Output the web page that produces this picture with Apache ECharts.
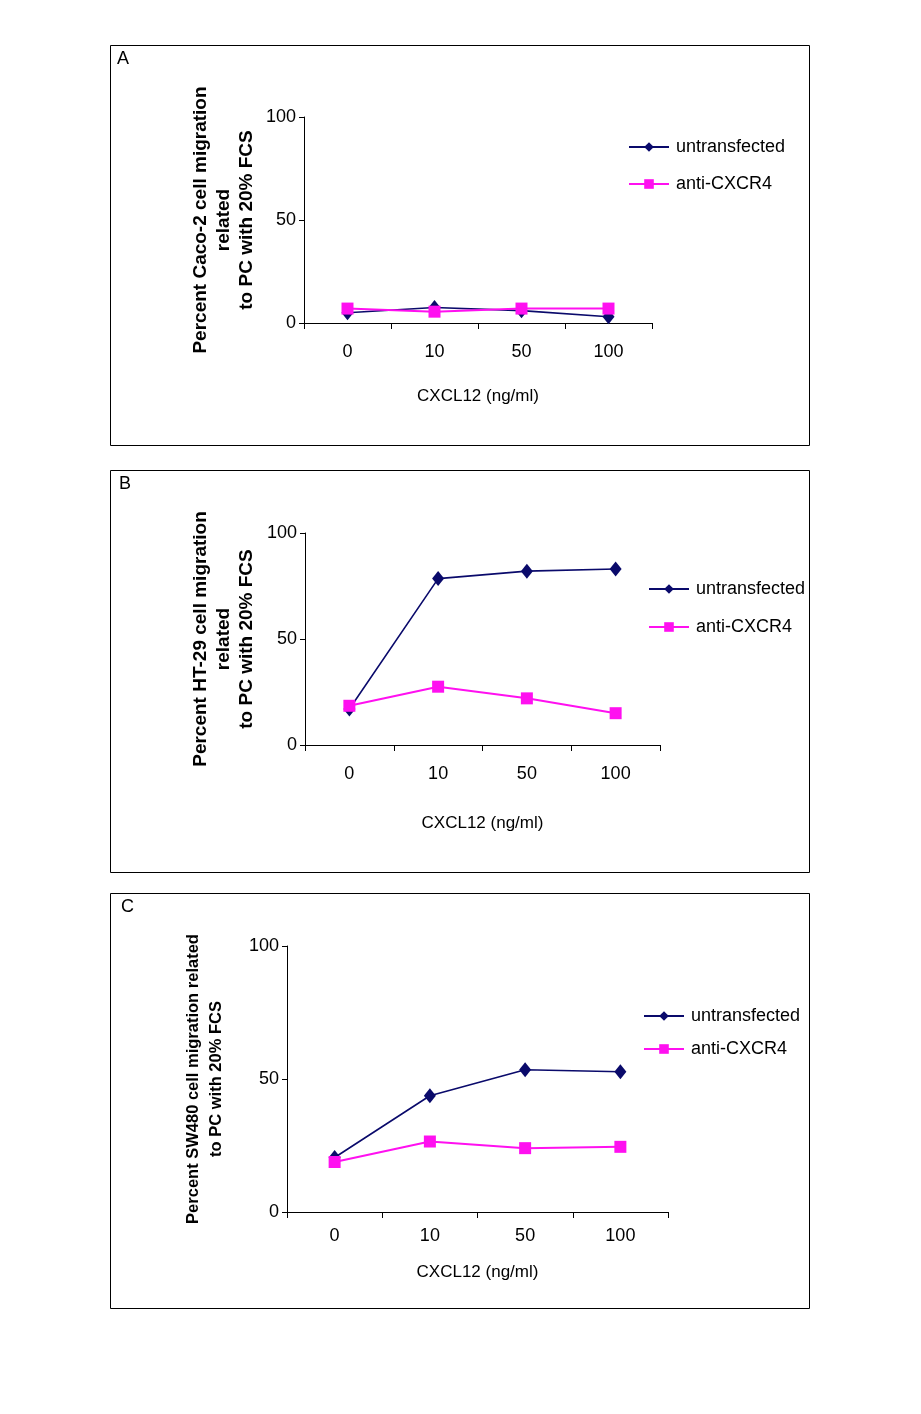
<!DOCTYPE html>
<html>
<head>
<meta charset="utf-8">
<script src="https://cdn.jsdelivr.net/npm/echarts@6/dist/echarts.min.js"></script>
<style>
html,body{margin:0;padding:0;background:#fff;}
#chart{width:921px;height:1414px;}
</style>
</head>
<body>
<div id="chart"></div>
<script>
const categories = ["0", "10", "50", "100"];
const seriesNames = ["untransfected", "anti-CXCR4"];
const yTicks = [0, 50, 100];

const untransfectedA = [5, 7.5, 6, 3];
const antiCXCR4A = [7, 5.5, 7, 7];

const untransfectedB = [17, 78.5, 82, 83];
const antiCXCR4B = [18.5, 27.5, 22, 15];

const untransfectedC = [20.5, 43.7, 53.5, 52.7];
const antiCXCR4C = [18.8, 26.5, 24, 24.5];

const panelLabels = ["A", "B", "C"];
const yTitles = [
  "Percent Caco-2 cell migration\nrelated\nto PC with 20% FCS",
  "Percent HT-29 cell migration\nrelated\nto PC with 20% FCS",
  "Percent SW480 cell migration related\nto PC with 20% FCS"
];
const xTitle = "CXCL12 (ng/ml)";

const SANS = "'Liberation Sans',Arial,sans-serif";
const NAVY = "#0a0a6b";
const MAGENTA = "#ff10f0";

const panels = [
  {grid:{left:304, top:117, width:348, height:206}, box:[110,45,699,400], label:[117,50],
   u:untransfectedA, a:antiCXCR4A, legend:{left:628, top:138, itemGap:19},
   xNameGap:65, xMargin:20, yNameGap:46, yFont:19, yLH:23},
  {grid:{left:305, top:533, width:355, height:212}, box:[110,470,699,402], label:[119,475],
   u:untransfectedB, a:antiCXCR4B, legend:{left:648, top:580, itemGap:20},
   xNameGap:70, xMargin:20, yNameGap:47, yFont:19, yLH:23},
  {grid:{left:287, top:946, width:381, height:266}, box:[110,893,699,415], label:[121,898],
   u:untransfectedC, a:antiCXCR4C, legend:{left:643, top:1007, itemGap:15},
   xNameGap:52, xMargin:15, yNameGap:59, yFont:16.5, yLH:23}
];

const chart = echarts.init(document.getElementById('chart'), null, {renderer:'canvas'});

const option = {
  backgroundColor:'#fff',
  animation:false,
  grid:[], xAxis:[], yAxis:[], series:[], legend:[], graphic:[]
};

panels.forEach((p, i) => {
  option.grid.push(Object.assign({containLabel:false}, p.grid));
  option.xAxis.push({
    type:'category', gridIndex:i, data:categories, boundaryGap:true,
    axisLine:{lineStyle:{color:'#000', width:1}},
    axisTick:{show:true, length:6, inside:false, alignWithLabel:false, lineStyle:{color:'#000'}},
    axisLabel:{color:'#000', fontSize:18, fontFamily:SANS, margin:p.xMargin},
    splitLine:{show:false},
    name:xTitle, nameLocation:'middle', nameGap:p.xNameGap,
    nameTextStyle:{color:'#000', fontSize:17, fontFamily:SANS}
  });
  option.yAxis.push({
    type:'value', gridIndex:i, min:0, max:100, interval:50,
    axisLine:{show:true, lineStyle:{color:'#000', width:1}},
    axisTick:{show:true, length:5, lineStyle:{color:'#000'}},
    axisLabel:{color:'#000', fontSize:18, fontFamily:SANS, margin:8,
      formatter:(v)=> yTicks.indexOf(v) >= 0 ? String(v) : ''},
    splitLine:{show:false},
    name:yTitles[i], nameLocation:'middle', nameGap:p.yNameGap, nameRotate:90,
    nameTextStyle:{color:'#000', fontSize:p.yFont, fontWeight:'bold', fontFamily:SANS,
      lineHeight:p.yLH, align:'center'}
  });
  option.series.push({
    name:seriesNames[0], type:'line', xAxisIndex:i, yAxisIndex:i, data:p.u,
    symbol:'diamond', symbolSize:[12,15], color:NAVY,
    lineStyle:{color:NAVY, width:1.6}, itemStyle:{color:NAVY}, z:2
  });
  option.series.push({
    name:seriesNames[1], type:'line', xAxisIndex:i, yAxisIndex:i, data:p.a,
    symbol:'rect', symbolSize:[12,12], color:MAGENTA,
    lineStyle:{color:MAGENTA, width:2}, itemStyle:{color:MAGENTA}, z:3
  });
  option.legend.push({
    orient:'vertical', left:p.legend.left, top:p.legend.top, itemGap:p.legend.itemGap,
    itemWidth:40, itemHeight:12, padding:0,
    data:seriesNames,
    textStyle:{color:'#000', fontSize:18, fontFamily:SANS, padding:[0,0,0,2]},
    selectedMode:false
  });
  option.graphic.push({
    type:'rect', shape:{x:p.box[0]+0.5, y:p.box[1]+0.5, width:p.box[2], height:p.box[3]},
    style:{fill:'none', stroke:'#000', lineWidth:1}, silent:true
  });
  option.graphic.push({
    type:'text', left:p.label[0], top:p.label[1],
    style:{text:panelLabels[i], fill:'#000', font:'18px ' + SANS}, silent:true
  });
});

chart.setOption(option);
</script>
</body>
</html>
